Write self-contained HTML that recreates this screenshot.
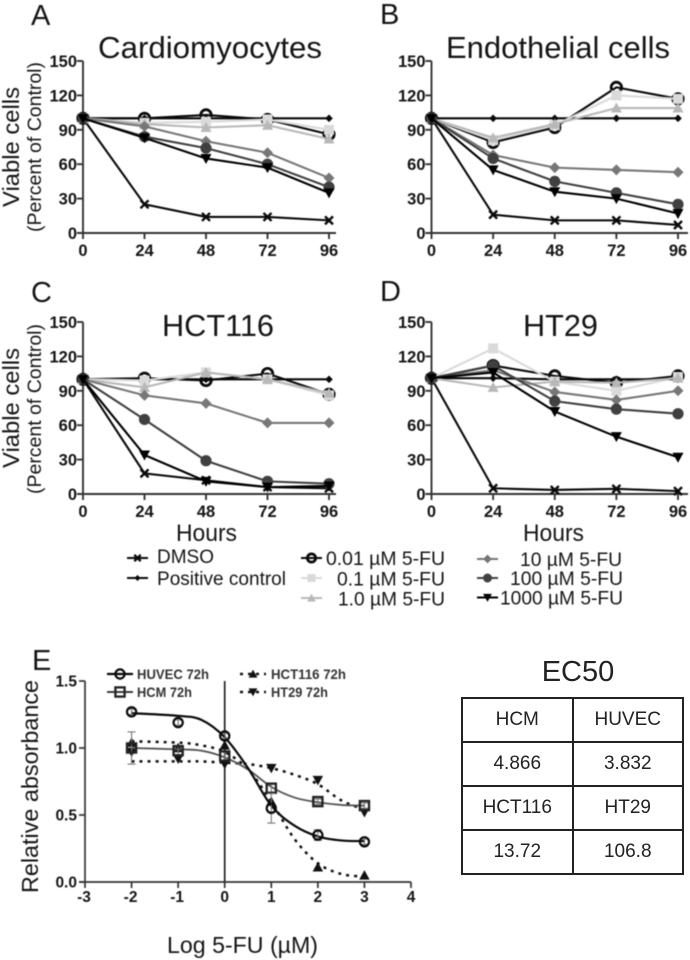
<!DOCTYPE html>
<html lang="en">
<head>
<meta charset="utf-8">
<title>5-FU viability figure</title>
<style>
html,body{margin:0;padding:0;background:#fff;}
#figure{position:relative;width:690px;height:960px;overflow:hidden;background:#fff;font-family:"Liberation Sans",sans-serif;}
#chart{position:absolute;left:0;top:0;filter:blur(0.45px);}
#ec50-table{position:absolute;left:461px;top:697px;width:223px;height:170px;border-collapse:collapse;table-layout:fixed;filter:blur(0.35px);color:#222;}
#ec50-table td{border:2px solid #222;text-align:center;font-size:19px;padding:0;height:42px;}
#ec50-title{position:absolute;left:523px;top:653px;width:110px;text-align:center;font-size:29px;line-height:38px;color:#222;filter:blur(0.35px);}
</style>
</head>
<body>
<div id="figure">
<svg id="chart" width="690" height="960" viewBox="0 0 690 960" xmlns="http://www.w3.org/2000/svg"></svg>
<div id="ec50-title">EC50</div>
<table id="ec50-table">
<tr><td>HCM</td><td>HUVEC</td></tr>
<tr><td>4.866</td><td>3.832</td></tr>
<tr><td>HCT116</td><td>HT29</td></tr>
<tr><td>13.72</td><td>106.8</td></tr>
</table>
</div>
<script>
// ---- Data: time-course panels ----
const hours = [0, 24, 48, 72, 96];
const hourTicks = [0, 24, 48, 72, 96];
const viabilityTicks = [0, 30, 60, 90, 120, 150];

const cardioDmso = [100, 25, 14, 14, 11];
const cardioPositive = [100, 100, 100, 100, 100];
const cardio001 = [100, 100, 103, 99, 86];
const cardio01 = [100, 96, 97, 99, 90];
const cardio1 = [100, 95, 92, 94, 82];
const cardio10 = [100, 93, 80, 70, 48];
const cardio100 = [100, 84, 74, 60, 40];
const cardio1000 = [100, 83, 65, 57, 35];

const endoDmso = [100, 16, 11, 11, 7];
const endoPositive = [100, 100, 100, 100, 100];
const endo001 = [100, 79, 92, 127, 117];
const endo01 = [100, 81, 94, 120, 117];
const endo1 = [100, 83, 95, 109, 109];
const endo10 = [100, 68, 57, 55, 53];
const endo100 = [100, 65, 45, 35, 25];
const endo1000 = [100, 55, 36, 30, 17];

const hctDmso = [100, 18, 12, 6, 5];
const hctPositive = [100, 100, 100, 100, 100];
const hct001 = [100, 101, 99, 105, 87];
const hct01 = [100, 99, 106, 100, 86];
const hct1 = [100, 93, 106, 100, 88];
const hct10 = [100, 86, 79, 62, 62];
const hct100 = [100, 65, 29, 11, 9];
const hct1000 = [100, 34, 11, 6, 7];

const htDmso = [101, 5, 3.5, 4.5, 2.5];
const htPositive = [101, 101, 100, 100, 100];
const ht001 = [101, 112, 103, 97, 103];
const ht01 = [101, 127, 98, 90, 102];
const ht1 = [101, 93, 98, 97, 101];
const ht10 = [101, 108, 89, 82, 90];
const ht100 = [101, 112, 81, 74, 70];
const ht1000 = [101, 106, 72, 50, 32];

// ---- Data: dose-response panel ----
const doseTicks = [-3, -2, -1, 0, 1, 2, 3, 4];
const absorbanceTicks = ['0.0', '0.5', '1.0', '1.5'];
const doses = [-2, -1, 0, 1, 2, 3];
const huvecPoints = [1.27, 1.19, 1.09, 0.55, 0.35, 0.30];
const hcmPoints = [1.00, 0.98, 0.94, 0.70, 0.60, 0.57];
const hct116Points = [1.04, 1.00, 1.02, 0.60, 0.11, 0.05];
const ht29Points = [0.97, 0.92, 0.88, 0.85, 0.76, 0.52];
const huvecErrors = [0.02, 0.02, 0.02, 0.11, 0.04, 0.02];
const hcmErrors = [0.12, 0.03, 0.03, 0.03, 0.02, 0.02];
const fitDoses = [-2, -1, -0.5, 0, 0.5, 1, 1.5, 2, 2.5, 3];
const huvecFit = [1.26, 1.24, 1.21, 1.08, 0.85, 0.57, 0.42, 0.34, 0.31, 0.305];
const hcmFit = [1.00, 0.99, 0.98, 0.93, 0.84, 0.71, 0.63, 0.595, 0.575, 0.57];
const hct116Fit = [1.05, 1.04, 1.02, 0.97, 0.84, 0.60, 0.32, 0.14, 0.06, 0.04];
const ht29Fit = [0.90, 0.90, 0.90, 0.89, 0.88, 0.85, 0.80, 0.73, 0.61, 0.54];

// ---- Drawing ----
const SVG_NS = 'http://www.w3.org/2000/svg';
const root = document.getElementById('chart');
const INK = '#151515';

function make(parent, tag, attrs, name) {
  const node = document.createElementNS(SVG_NS, tag);
  for (const key in attrs) node.setAttribute(key, attrs[key]);
  
  
  parent.appendChild(node);
  return node;
}

function label(parent, str, x, y, size, name, opts) {
  const o = opts || {};
  const attrs = {x: x, y: y, 'font-size': size, fill: o.fill || INK, 'text-anchor': o.anchor || 'start',
    'font-family': '"Liberation Sans", sans-serif', 'font-weight': o.weight || 'normal'};
  if (o.len) { attrs.textLength = o.len; attrs.lengthAdjust = 'spacingAndGlyphs'; }
  if (o.rotate) attrs.transform = 'rotate(-90 ' + x + ' ' + y + ')';
  const t = make(parent, 'text', attrs, name);
  t.textContent = str;
  return t;
}

function marker(parent, kind, x, y, color, name, scale) {
  const s = scale || 1;
  const poly = function (pts) {
    return pts.map(function (p) { return (x + p[0] * s) + ',' + (y + p[1] * s); }).join(' ');
  };
  if (kind === 'cross') {
    const c = 4 * s;
    make(parent, 'path', {d: 'M' + (x - c) + ' ' + (y - c) + 'L' + (x + c) + ' ' + (y + c) + 'M' + (x + c) + ' ' + (y - c) + 'L' + (x - c) + ' ' + (y + c), stroke: color, 'stroke-width': 2.4, fill: 'none'}, name);
  } else if (kind === 'tiny') {
    make(parent, 'polygon', {points: poly([[0, -3.8], [3.8, 0], [0, 3.8], [-3.8, 0]]), fill: color}, name);
  } else if (kind === 'ring') {
    make(parent, 'circle', {cx: x, cy: y, r: 5.2 * s, fill: 'none', stroke: color, 'stroke-width': 2.8}, name);
  } else if (kind === 'square') {
    make(parent, 'rect', {x: x - 5 * s, y: y - 5 * s, width: 10 * s, height: 10 * s, fill: color}, name);
  } else if (kind === 'up') {
    make(parent, 'polygon', {points: poly([[0, -5.5], [5.5, 4.5], [-5.5, 4.5]]), fill: color}, name);
  } else if (kind === 'diamond') {
    make(parent, 'polygon', {points: poly([[0, -5.5], [5.5, 0], [0, 5.5], [-5.5, 0]]), fill: color}, name);
  } else if (kind === 'disc') {
    make(parent, 'circle', {cx: x, cy: y, r: 5.6 * s, fill: color}, name);
  } else if (kind === 'down') {
    make(parent, 'polygon', {points: poly([[-5.5, -4.5], [5.5, -4.5], [0, 5.5]]), fill: color}, name);
  } else if (kind === 'openSquare') {
    make(parent, 'rect', {x: x - 4.6, y: y - 4.6, width: 9.2, height: 9.2, fill: 'none', stroke: color, 'stroke-width': 2.3}, name);
  } else if (kind === 'openCircle') {
    make(parent, 'circle', {cx: x, cy: y, r: 4.6, fill: 'none', stroke: color, 'stroke-width': 2.2}, name);
  }
}

const treatmentStyles = [
  {key: 'dmso', title: 'DMSO', kind: 'cross', color: '#0a0a0a'},
  {key: 'positive-control', title: 'Positive control', kind: 'tiny', color: '#0a0a0a'},
  {key: '0-01um', title: '0.01 µM 5-FU', kind: 'ring', color: '#0a0a0a'},
  {key: '0-1um', title: '0.1 µM 5-FU', kind: 'square', color: '#dadada'},
  {key: '1um', title: '1.0 µM 5-FU', kind: 'up', color: '#b8b8b8'},
  {key: '10um', title: '10 µM 5-FU', kind: 'diamond', color: '#777777'},
  {key: '100um', title: '100 µM 5-FU', kind: 'disc', color: '#404040'},
  {key: '1000um', title: '1000 µM 5-FU', kind: 'down', color: '#000000'}
];

function drawPanel(cfg) {
  const g = make(root, 'g', {}, cfg.id + '-panel');
  const xScale = function (h) { return cfg.x0 + (h / 96) * (cfg.x96 - cfg.x0); };
  const yScale = function (v) { return cfg.yZero - (v / 150) * (cfg.yZero - cfg.yTop); };

  make(g, 'line', {x1: cfg.x0, y1: cfg.yTop, x2: cfg.x0, y2: cfg.yZero + 1, stroke: '#333', 'stroke-width': 1.9}, cfg.id + '-y-axis');
  make(g, 'line', {x1: cfg.x0 - 6, y1: cfg.yZero, x2: cfg.xEnd, y2: cfg.yZero, stroke: '#333', 'stroke-width': 1.9}, cfg.id + '-x-axis');

  viabilityTicks.forEach(function (v) {
    make(g, 'line', {x1: cfg.x0 - 6, y1: yScale(v), x2: cfg.x0, y2: yScale(v), stroke: '#333', 'stroke-width': 1.9}, cfg.id + '-y-tick');
    label(g, String(v), cfg.x0 - 6, yScale(v) + 6, 16.5, cfg.id + '-y-tick-label', {anchor: 'end', weight: 'bold'});
  });
  hourTicks.forEach(function (h) {
    make(g, 'line', {x1: xScale(h), y1: cfg.yZero, x2: xScale(h), y2: cfg.yZero + 6, stroke: '#333', 'stroke-width': 1.9}, cfg.id + '-x-tick');
    label(g, String(h), xScale(h), cfg.yZero + 23, 16.5, cfg.id + '-x-tick-label', {anchor: 'middle', weight: 'bold'});
  });

  cfg.series.forEach(function (values, i) {
    const st = treatmentStyles[i];
    const sg = make(g, 'g', {}, cfg.id + '-series-' + st.key);
    const pts = values.map(function (v, j) { return xScale(hours[j]) + ',' + yScale(v); }).join(' ');
    make(sg, 'polyline', {points: pts, fill: 'none', stroke: st.color, 'stroke-width': 2.1}, cfg.id + '-line-' + st.key);
    values.forEach(function (v, j) {
      marker(sg, st.kind, xScale(hours[j]), yScale(v), st.color, cfg.id + '-point-' + st.key);
    });
  });

  label(g, cfg.letter, cfg.letterX, cfg.letterY, 29, cfg.id + '-panel-letter');
  label(g, cfg.title, cfg.titleX, cfg.titleY, 30.5, cfg.id + '-title', {len: cfg.titleLen});
}

drawPanel({id: 'cardiomyocytes', letter: 'A', letterX: 31, letterY: 25, title: 'Cardiomyocytes', titleX: 98, titleY: 58, titleLen: 224,
  x0: 83, x96: 329, xEnd: 336, yTop: 61, yZero: 233,
  series: [cardioDmso, cardioPositive, cardio001, cardio01, cardio1, cardio10, cardio100, cardio1000]});
drawPanel({id: 'endothelial', letter: 'B', letterX: 380, letterY: 24, title: 'Endothelial cells', titleX: 446, titleY: 58, titleLen: 224,
  x0: 431.5, x96: 678, xEnd: 688, yTop: 61, yZero: 233,
  series: [endoDmso, endoPositive, endo001, endo01, endo1, endo10, endo100, endo1000]});
drawPanel({id: 'hct116', letter: 'C', letterX: 31, letterY: 302, title: 'HCT116', titleX: 162, titleY: 336, titleLen: 112,
  x0: 83, x96: 329, xEnd: 336, yTop: 322, yZero: 494,
  series: [hctDmso, hctPositive, hct001, hct01, hct1, hct10, hct100, hct1000]});
drawPanel({id: 'ht29', letter: 'D', letterX: 380, letterY: 301, title: 'HT29', titleX: 523, titleY: 336, titleLen: 75,
  x0: 431.5, x96: 678, xEnd: 688, yTop: 322, yZero: 494,
  series: [htDmso, htPositive, ht001, ht01, ht1, ht10, ht100, ht1000]});

// Shared axis titles
label(root, 'Viable cells', 19, 207, 23.5, 'top-y-axis-title', {rotate: true, len: 120});
label(root, '(Percent of Control)', 41, 232, 19.5, 'top-y-axis-subtitle', {rotate: true, len: 170});
label(root, 'Viable cells', 19, 468, 23.5, 'bottom-y-axis-title', {rotate: true, len: 120});
label(root, '(Percent of Control)', 41, 494, 19.5, 'bottom-y-axis-subtitle', {rotate: true, len: 170});
label(root, 'Hours', 176, 541, 24, 'left-x-axis-title', {len: 61});
label(root, 'Hours', 523, 541, 24, 'right-x-axis-title', {len: 61});

// Legend for the time-course panels
const legendGroup = make(root, 'g', {}, 'treatment-legend');
const legendRows = [
  {index: 0, lx: 127, cy: 558, tx: 157, base: 563, tw: 57},
  {index: 1, lx: 127, cy: 578, tx: 157, base: 585, tw: 129},
  {index: 2, lx: 301, cy: 558, tx: 326, base: 565, tw: 119},
  {index: 3, lx: 301, cy: 578, tx: 337, base: 585.5, tw: 108},
  {index: 4, lx: 301, cy: 598, tx: 338, base: 605.5, tw: 107},
  {index: 5, lx: 477, cy: 559, tx: 520, base: 566, tw: 102},
  {index: 6, lx: 477, cy: 578, tx: 510, base: 585, tw: 113},
  {index: 7, lx: 477, cy: 597.5, tx: 500, base: 604.5, tw: 123}
];
legendRows.forEach(function (row) {
  const st = treatmentStyles[row.index];
  const entry = make(legendGroup, 'g', {}, 'legend-entry-' + st.key);
  make(entry, 'line', {x1: row.lx, y1: row.cy, x2: row.lx + 21, y2: row.cy, stroke: st.color, 'stroke-width': 1.9}, 'legend-line-' + st.key);
  marker(entry, st.kind, row.lx + 10.5, row.cy, st.color, 'legend-marker-' + st.key, 0.8);
  label(entry, st.title, row.tx, row.base, 19.5, 'legend-label-' + st.key, {len: row.tw});
});

// ---- Panel E ----
const eGroup = make(root, 'g', {}, 'dose-response-panel');
const ex = function (d) { return 85 + (d + 3) / 7 * 326; };
const ey = function (v) { return 882 - v / 1.5 * 201; };

function smoothPath(xs, ys) {
  const P = xs.map(function (d, i) { return [ex(d), ey(ys[i])]; });
  let out = 'M' + P[0][0] + ' ' + P[0][1];
  for (let i = 0; i < P.length - 1; i++) {
    const a = P[Math.max(i - 1, 0)], b = P[i], c = P[i + 1], e = P[Math.min(i + 2, P.length - 1)];
    out += 'C' + (b[0] + (c[0] - a[0]) / 6) + ' ' + (b[1] + (c[1] - a[1]) / 6) + ' ' +
      (c[0] - (e[0] - b[0]) / 6) + ' ' + (c[1] - (e[1] - b[1]) / 6) + ' ' + c[0] + ' ' + c[1];
  }
  return out;
}

make(eGroup, 'line', {x1: 85, y1: 681, x2: 85, y2: 883, stroke: '#333', 'stroke-width': 1.7}, 'dose-y-axis');
make(eGroup, 'line', {x1: 79, y1: 882, x2: 411, y2: 882, stroke: '#333', 'stroke-width': 1.7}, 'dose-x-axis');
make(eGroup, 'line', {x1: ex(0), y1: 681, x2: ex(0), y2: 882, stroke: '#222', 'stroke-width': 1.7}, 'dose-zero-line');

absorbanceTicks.forEach(function (t) {
  const v = parseFloat(t);
  make(eGroup, 'line', {x1: 79, y1: ey(v), x2: 85, y2: ey(v), stroke: '#333', 'stroke-width': 1.7}, 'dose-y-tick');
  label(eGroup, t, 77, ey(v) + 5.5, 15.5, 'dose-y-tick-label', {anchor: 'end', weight: 'bold'});
});
doseTicks.forEach(function (d) {
  make(eGroup, 'line', {x1: ex(d), y1: 882, x2: ex(d), y2: 888, stroke: '#333', 'stroke-width': 1.7}, 'dose-x-tick');
  label(eGroup, String(d), ex(d) - (d < 0 ? 1 : 0), 902, 15.5, 'dose-x-tick-label', {anchor: 'middle', weight: 'bold'});
});

const doseSeries = [
  {key: 'ht29', title: 'HT29 72h', points: ht29Points, fit: ht29Fit, kind: 'down', color: '#111', dash: '3 5', width: 2.5},
  {key: 'hct116', title: 'HCT116 72h', points: hct116Points, fit: hct116Fit, kind: 'up', color: '#111', dash: '3 5', width: 2.5},
  {key: 'hcm', title: 'HCM 72h', points: hcmPoints, fit: hcmFit, errors: hcmErrors, kind: 'openSquare', color: '#555', width: 1.8},
  {key: 'huvec', title: 'HUVEC 72h', points: huvecPoints, fit: huvecFit, errors: huvecErrors, kind: 'openCircle', color: '#0a0a0a', width: 2.2}
];
doseSeries.forEach(function (s) {
  const sg = make(eGroup, 'g', {}, 'dose-series-' + s.key);
  const attrs = {d: smoothPath(fitDoses, s.fit), fill: 'none', stroke: s.color, 'stroke-width': s.width};
  if (s.dash) attrs['stroke-dasharray'] = s.dash;
  make(sg, 'path', attrs, 'dose-curve-' + s.key);
  s.points.forEach(function (v, i) {
    if (s.errors) {
      const up = ey(v + s.errors[i]), lo = ey(v - s.errors[i]), cx = ex(doses[i]);
      make(sg, 'path', {d: 'M' + cx + ' ' + up + 'V' + lo + 'M' + (cx - 4) + ' ' + up + 'H' + (cx + 4) + 'M' + (cx - 4) + ' ' + lo + 'H' + (cx + 4), stroke: '#777', 'stroke-width': 1.1, fill: 'none'}, 'dose-error-bar-' + s.key);
    }
    marker(sg, s.kind, ex(doses[i]), ey(v), s.color === '#555' ? '#222' : s.color, 'dose-point-' + s.key, 0.95);
  });
});

const doseLegend = make(eGroup, 'g', {}, 'dose-legend');
const doseLegendRows = [
  {index: 3, lx: 107, cy: 674, tx: 137, tw: 72},
  {index: 2, lx: 107, cy: 692, tx: 137, tw: 55},
  {index: 1, lx: 240, cy: 674, tx: 271, tw: 75},
  {index: 0, lx: 240, cy: 692, tx: 271, tw: 57}
];
doseLegendRows.forEach(function (row) {
  const s = doseSeries[row.index];
  const dark = s.color === '#555' ? '#222' : s.color;
  const entry = make(doseLegend, 'g', {}, 'dose-legend-entry-' + s.key);
  const attrs = {x1: row.lx, y1: row.cy, x2: row.lx + 26, y2: row.cy, stroke: dark, 'stroke-width': s.width};
  if (s.dash) attrs['stroke-dasharray'] = s.dash;
  make(entry, 'line', attrs, 'dose-legend-line-' + s.key);
  marker(entry, s.kind, row.lx + 13, row.cy, dark, 'dose-legend-marker-' + s.key, 0.8);
  label(entry, s.title, row.tx, row.cy + 5, 14, 'dose-legend-label-' + s.key, {len: row.tw, weight: 'bold', fill: '#333'});
});

label(root, 'E', 32, 670, 29, 'dose-panel-letter');
label(root, 'Relative absorbance', 38, 893, 23.5, 'dose-y-axis-title', {rotate: true, len: 213});
label(root, 'Log 5-FU (µM)', 167, 953, 23, 'dose-x-axis-title', {len: 151});
</script>
</body>
</html>
